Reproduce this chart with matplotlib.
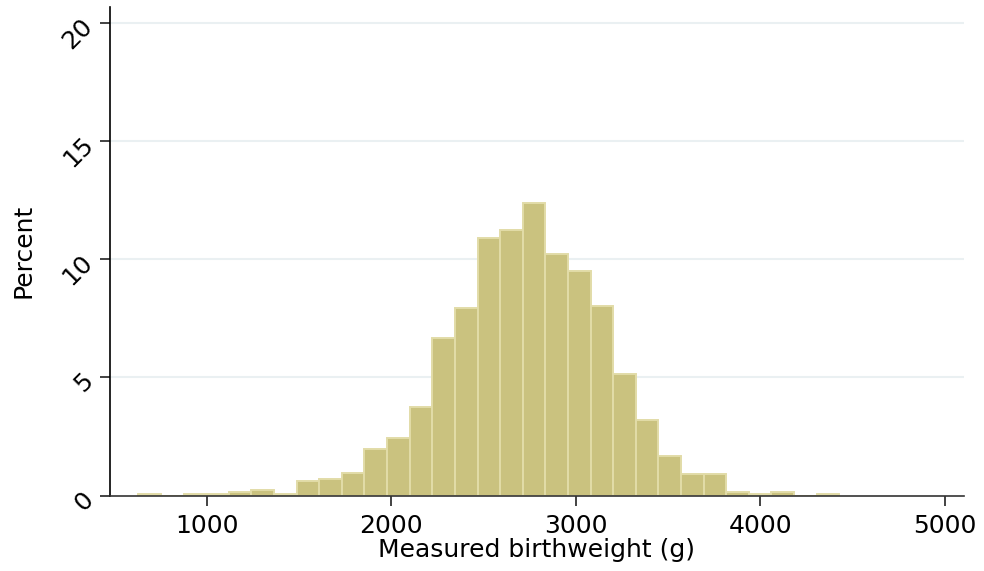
import numpy as np
import matplotlib
matplotlib.use("Agg")
import matplotlib.pyplot as plt

plt.rcParams["font.family"] = ["DejaVu Sans"]

# histogram of measured birthweight, percent per bin
bin_start = 628
bin_width = 122.6
percent = [0.08, 0, 0.08, 0.08, 0.16, 0.23, 0.08, 0.6, 0.68, 0.94,
           1.95, 2.42, 3.74, 6.68, 7.94, 10.9, 11.23, 12.36, 10.2, 9.5,
           8.02, 5.15, 3.2, 1.67, 0.9, 0.9, 0.15, 0.08, 0.15, 0, 0.08]
x_ticks = [1000, 2000, 3000, 4000, 5000]
y_ticks = [0, 5, 10, 15, 20]

edges = bin_start + bin_width * np.arange(len(percent) + 1)

fig = plt.figure(figsize=(9.84, 5.71), dpi=100)
ax = fig.add_axes([110 / 984, (571 - 495.5) / 571, (964 - 110) / 984, (495.5 - 7) / 571])

for y in y_ticks[1:]:
    ax.axhline(y, color="#eaf0f2", lw=1.5, zorder=0)

ax.bar(edges[:-1], percent, width=bin_width, align="edge",
       color="#cac27f", edgecolor="#e2dca8", linewidth=1.4, zorder=2)

ax.set_xlim(474, 5105)
ax.set_ylim(0, 20.66)

for s in ["top", "right"]:
    ax.spines[s].set_visible(False)
ax.spines["left"].set_linewidth(1.2)
ax.spines["bottom"].set_linewidth(1.2)
ax.spines["bottom"].set_color("#333333")

fs = 18
ax.set_xticks(x_ticks)
ax.set_xticklabels([str(v) for v in x_ticks], fontsize=fs)
ax.set_yticks(y_ticks)
ax.set_yticklabels([str(v) for v in y_ticks], fontsize=fs, rotation=45,
                   rotation_mode="anchor", ha="right", va="center")
ax.tick_params(axis="both", length=7, width=1.2, color="#222222")
ax.tick_params(axis="x", pad=6)
ax.tick_params(axis="y", pad=8)

ax.set_xlabel("Measured birthweight (g)", fontsize=fs, labelpad=0)
ax.set_ylabel("Percent", fontsize=fs, labelpad=16)

fig.savefig("out.png", dpi=100, facecolor="white")
